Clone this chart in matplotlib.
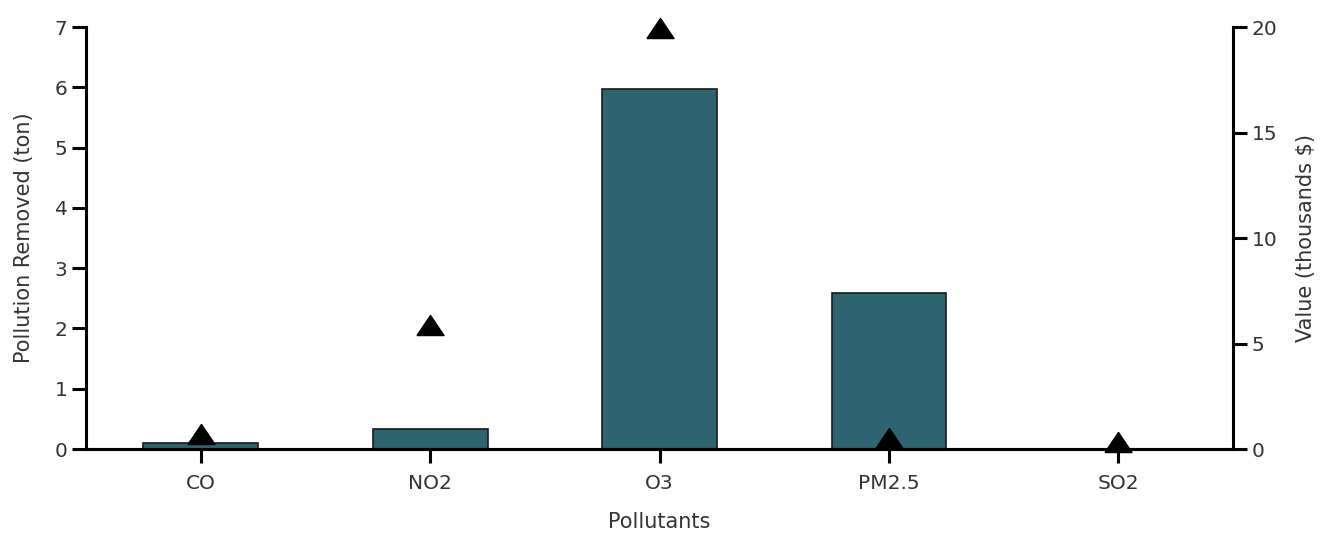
import matplotlib
matplotlib.use("Agg")
import matplotlib.pyplot as plt
import numpy as np

# =========================
# DATA
# =========================
pollutants = ["CO", "NO2", "O3", "PM2.5", "SO2"]
removed_ton = [0.1, 0.33, 5.97, 2.59, 0.0]          # bars, left axis
value_thousands = [0.7, 5.9, 19.95, 0.52, 0.33]     # triangles, right axis

BAR_COLOR = "#2d6470"
TXT = "#333333"
# wide, flat triangle like the original
TRI = [(-1.35, -1.0), (1.35, -1.0), (0.0, 1.0), (-1.35, -1.0)]
plt.rcParams["font.family"] = ["DejaVu Sans"]

fig = plt.figure(figsize=(13.25, 5.35), dpi=100)
ax = fig.add_axes([0.065, 0.1607, 0.8656, 0.7888])
x = np.arange(len(pollutants))

ax.bar(x, removed_ton, width=0.5, color=BAR_COLOR, edgecolor="#1a1a1a", linewidth=1.2, zorder=2)
ax.set_xlim(-0.5, len(pollutants) - 0.5)
ax.set_ylim(0, 7)
ax.set_yticks(range(0, 8))
ax.set_xticks(x)
ax.set_xticklabels(pollutants)
ax.set_xlabel("Pollutants", fontsize=15, color=TXT, labelpad=14)
ax.set_ylabel("Pollution Removed (ton)", fontsize=15, color=TXT, labelpad=15)

ax2 = ax.twinx()
ax2.plot(x, value_thousands, linestyle="none", marker=TRI, markersize=19.5,
         color="black", zorder=2, clip_on=False)
ax2.set_ylim(0, 20)
ax2.set_yticks([0, 5, 10, 15, 20])
ax2.set_ylabel("Value (thousands $)", fontsize=15, color=TXT, labelpad=13)

for a in (ax, ax2):
    a.spines["top"].set_visible(False)
    for s in ("left", "right", "bottom"):
        a.spines[s].set_linewidth(2.2)
        a.spines[s].set_zorder(3)
    a.tick_params(width=2.2, length=10, labelsize=14.5, labelcolor=TXT)
ax.tick_params(axis="x", pad=8)
ax.spines["right"].set_visible(False)
ax2.spines["left"].set_visible(False)
ax2.spines["bottom"].set_visible(True)
ax2.tick_params(axis="x", bottom=False, labelbottom=False)

fig.savefig("out.png", dpi=100)
